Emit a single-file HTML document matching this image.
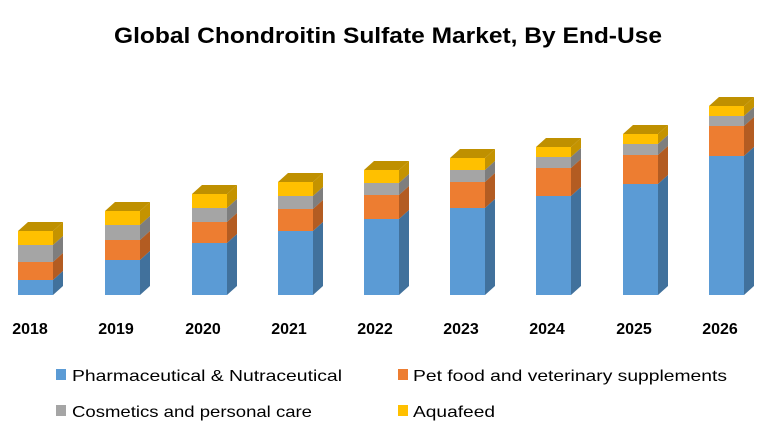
<!DOCTYPE html>
<html><head><meta charset="utf-8"><style>
html,body{margin:0;padding:0;background:#fff;}
svg{display:block;font-family:"Liberation Sans",sans-serif;}
</style></head><body>
<svg id="s" width="780" height="440" viewBox="0 0 780 440" xmlns="http://www.w3.org/2000/svg">
<text x="388" y="43" text-anchor="middle" font-size="22" font-weight="bold" fill="#000" textLength="548" lengthAdjust="spacingAndGlyphs">Global Chondroitin Sulfate Market, By End-Use</text>
<g id="bars"></g>
<g font-size="16" font-weight="bold" fill="#000" text-anchor="middle">
<text x="30" y="334">2018</text><text x="116" y="334">2019</text><text x="203" y="334">2020</text>
<text x="289" y="334">2021</text><text x="375" y="334">2022</text><text x="461" y="334">2023</text>
<text x="547" y="334">2024</text><text x="634" y="334">2025</text><text x="720" y="334">2026</text>
</g>
<g font-size="16" fill="#000">
<rect x="56" y="369" width="10" height="11" fill="#5B9BD5"/>
<text x="72" y="381" textLength="270" lengthAdjust="spacingAndGlyphs">Pharmaceutical &amp; Nutraceutical</text>
<rect x="398" y="369" width="10" height="11" fill="#ED7D31"/>
<text x="413" y="381" textLength="314" lengthAdjust="spacingAndGlyphs">Pet food and veterinary supplements</text>
<rect x="56" y="405" width="10" height="11" fill="#A5A5A5"/>
<text x="72" y="417" textLength="240" lengthAdjust="spacingAndGlyphs">Cosmetics and personal care</text>
<rect x="398" y="405" width="10" height="11" fill="#FFC000"/>
<text x="413" y="417" textLength="82" lengthAdjust="spacingAndGlyphs">Aquafeed</text>
</g>
</svg>
<script>
var data=[[18,231,245,262,280],[105,211,225,240,260],[192,194,208,222,243],[278,182,196,209,231],[364,170,183,195,219],[450,158,170,182,208],[536,147,157,168,196],[623,134,144,155,184],[709,106,116,126,156]];
var front=["#FFC000","#A5A5A5","#ED7D31","#5B9BD5"],side=["#C49300","#7E7E7E","#B35C22","#41719C"];
var W=35,dx=10,dy=9,B=295,h="";
data.forEach(function(d){
 var x=d[0],ys=[d[1],d[2],d[3],d[4],B];
 for(var i=0;i<4;i++){
  var a=ys[i],b=ys[i+1];
  h+='<rect x="'+x+'" y="'+a+'" width="'+W+'" height="'+(b-a)+'" fill="'+front[i]+'"/>';
  h+='<polygon points="'+(x+W)+','+a+' '+(x+W+dx)+','+(a-dy)+' '+(x+W+dx)+','+(b-dy)+' '+(x+W)+','+b+'" fill="'+side[i]+'"/>';
 }
 var t=ys[0];
 h+='<polygon points="'+x+','+t+' '+(x+dx)+','+(t-dy)+' '+(x+W+dx)+','+(t-dy)+' '+(x+W)+','+t+'" fill="#BF9000"/>';
});
document.getElementById("bars").innerHTML=h;
</script>
</body></html>
